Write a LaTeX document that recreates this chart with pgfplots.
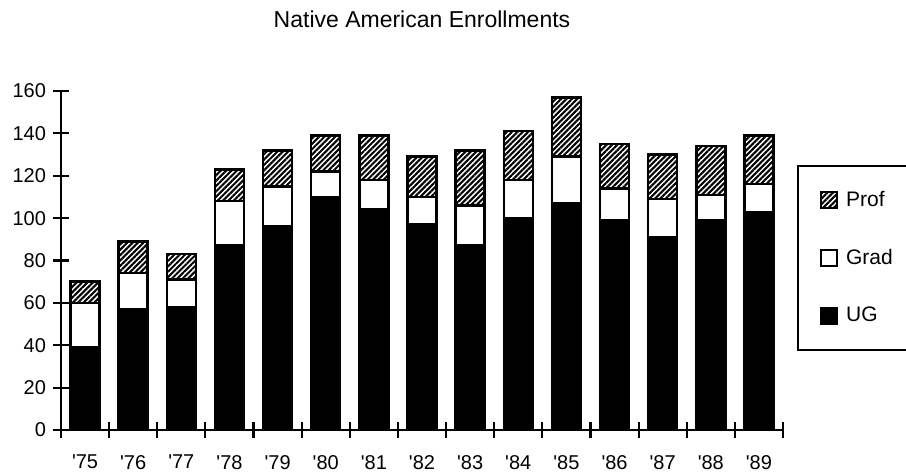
\documentclass[border=0pt]{standalone}
\usepackage{fontspec}
\setmainfont{Liberation Sans}
\usepackage{pgfplots}
\usepackage{pgfplotstable}
\pgfplotsset{compat=1.18}
\usetikzlibrary{patterns.meta}

% enrollments by year: undergraduate, graduate, professional
\pgfplotstableread{
yr ug  grad prof
0  39  21   10
1  57  17   15
2  58  13   12
3  87  21   15
4  96  19   17
5  110 12   17
6  104 14   21
7  97  13   19
8  87  19   26
9  100 18   23
10 107 22   28
11 99  15   21
12 91  18   21
13 99  12   23
14 103 13   23
}\enroll

\begin{document}
\begin{tikzpicture}
\begin{axis}[at={(0,0)},anchor=south west,scale only axis,
  width=361pt,height=169.5pt,
  ybar stacked,bar width=14.5pt,
  xmin=-0.5,xmax=14.5,ymin=0,ymax=160,
  axis lines=left,axis line style={-,line width=1.3pt},
  ytick={0,20,...,160},
  xtick={-0.5,0.5,...,14.5},xticklabels={},
  extra x ticks={0,...,14},
  extra x tick labels={\textquotesingle 75,\textquotesingle 76,\textquotesingle 77,
    \textquotesingle 78,\textquotesingle 79,\textquotesingle 80,\textquotesingle 81,
    \textquotesingle 82,\textquotesingle 83,\textquotesingle 84,\textquotesingle 85,
    \textquotesingle 86,\textquotesingle 87,\textquotesingle 88,\textquotesingle 89},
  extra x tick style={major tick length=0pt,tick style={draw=none},
    xticklabel style={yshift=-9pt}},
  tick align=center,major tick length=8pt,
  every tick/.style={black,line width=1.1pt},
  tick label style={font=\fontsize{10}{12}\selectfont},
  /pgf/number format/assume math mode=true,
  title={Native American Enrollments},
  title style={at={(0.5,1.175)},anchor=center,font=\fontsize{11.5}{13}\selectfont},
  reverse legend,
  legend image code/.code={\draw[#1] (0pt,-4pt) rectangle (8pt,4pt);},
  legend style={at={(1.019,0.782)},anchor=north west,draw=black,line width=1pt,
    inner xsep=11pt,inner ysep=10.5pt,row sep=16pt,
    font=\fontsize{10.5}{12}\selectfont,cells={anchor=west},
    nodes={inner xsep=4pt}},
]
\addplot[fill=black,draw=black,line width=1.2pt] table[x=yr,y=ug]{\enroll};
\addlegendentry{UG}
\addplot[fill=white,draw=black,line width=1.2pt] table[x=yr,y=grad]{\enroll};
\addlegendentry{Grad}
\addplot[draw=black,line width=1.2pt,
  pattern={Lines[angle=45,distance=1.9pt,line width=1.05pt]},pattern color=black]
  table[x=yr,y=prof]{\enroll};
\addlegendentry{Prof\hspace{40pt}}
\end{axis}
\pgfresetboundingbox
\useasboundingbox (-30.5pt,-21pt) rectangle (422.5pt,215pt);
\end{tikzpicture}
\end{document}
